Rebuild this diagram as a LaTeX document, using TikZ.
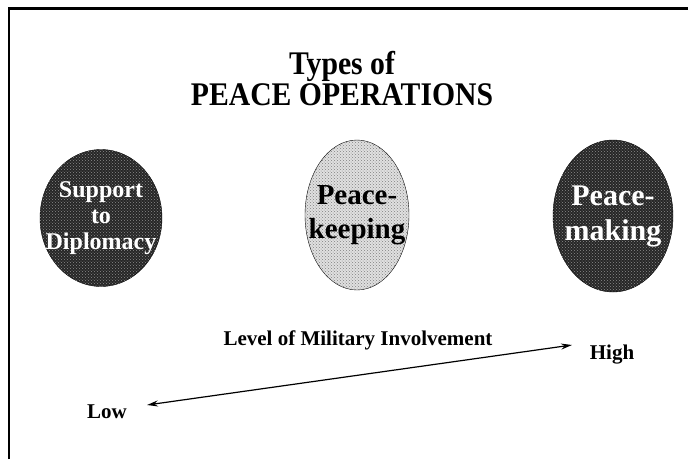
\documentclass[tikz,border=0pt]{standalone}
\usepackage{fontspec}
\setmainfont{Liberation Serif}
\newfontfamily\titlefont[FakeStretch=0.9]{Liberation Serif}
\usetikzlibrary{shapes.geometric,patterns,arrows.meta}

\begin{document}
\begin{tikzpicture}[x=1pt, y=-1pt, node distance=256pt, thick,
    title text/.style={font=\titlefont\bfseries\fontsize{33}{31}\selectfont, align=center},
    label text/.style={font=\bfseries\fontsize{21}{22}\selectfont, anchor=base},
    op node/.style={ellipse, draw, thin, inner sep=0pt},
    op text/.style 2 args={align=center, font=\bfseries\fontsize{#1}{#2}\selectfont},
    dark op/.style 2 args={op node, fill=black!85, label={[op text={#1}{#2}, text=white]center:{\opname}},
        postaction={pattern=crosshatch dots, pattern color=white!55!black}},
    light op/.style 2 args={op node, fill=black!12, label={[op text={#1}{#2}]center:{\opname}},
        postaction={pattern=crosshatch dots, pattern color=black!50}}]
    \useasboundingbox (0,0) rectangle (688,459);

    % frame
    \draw[line width=2.2pt] (9,459) -- (9,8.5) -- (688,8.5);

    % title
    \node[title text] (title) at (342,79) {Types of\\PEACE OPERATIONS};

    % operations
    \def\opname{Support\\to\\Diplomacy}
    \node[dark op={24}{26}, minimum width=122pt, minimum height=137pt] (diplomacy) at (101,218) {};
    \def\opname{Peace-\\keeping}
    \node[light op={29}{34}, minimum width=104pt, minimum height=150pt] (keeping) [right of=diplomacy, yshift=3pt] {};
    \def\opname{Peace-\\making}
    \node[dark op={30}{35}, minimum width=120pt, minimum height=152pt] (making) [right of=keeping, yshift=-1pt] {};

    % scale
    \node[label text] (level) at (358,345) {Level of Military Involvement};
    \node[label text] (high) at (612,359) {High};
    \node[label text] (low) at (107,418) {Low};
    \coordinate (lowend) at (147,405);
    \coordinate (highend) at (572,345);
    \draw[{Stealth[length=11pt,width=6pt]}-{Stealth[length=11pt,width=6pt]}, line width=1.2pt]
        (lowend) -- (highend);
\end{tikzpicture}
\end{document}
